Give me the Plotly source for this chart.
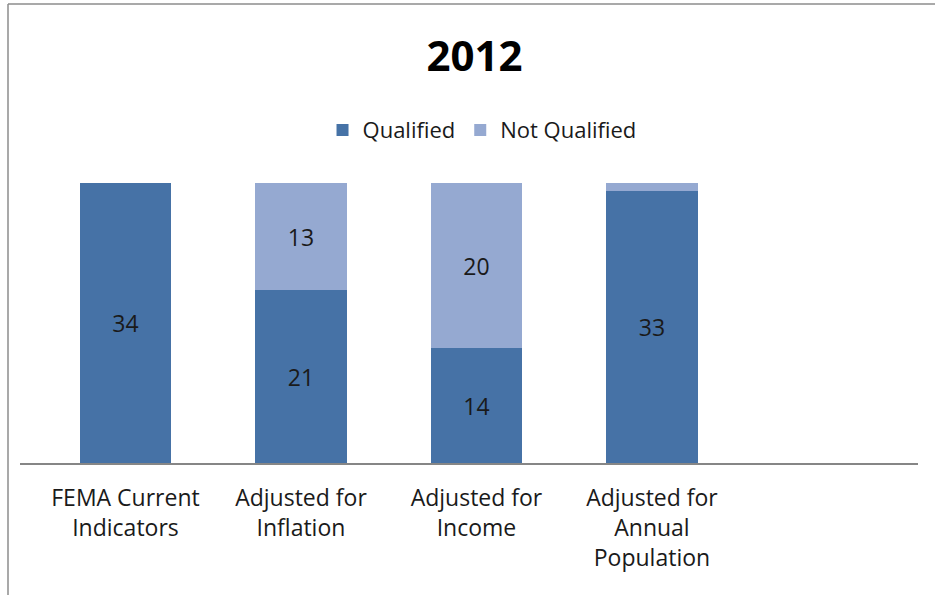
import plotly.graph_objects as go

# Disaster declaration qualification counts, 2012
categories = [
    "FEMA Current<br>Indicators",
    "Adjusted for<br>Inflation",
    "Adjusted for<br>Income",
    "Adjusted for<br>Annual<br>Population",
]
qualified = [34, 21, 14, 33]
not_qualified = [0, 13, 20, 1]

x_pos = list(range(len(categories)))

FONT = "Open Sans"
DARK = "#4672A6"
LIGHT = "#95A9D1"


def labels(values):
    # values too small to fit a label inside the segment stay unlabeled
    return [str(v) if v >= 2 else "" for v in values]


fig = go.Figure()
fig.add_trace(go.Bar(
    x=x_pos, y=qualified, name="Qualified",
    marker=dict(color=DARK, line=dict(width=0)),
    width=0.52,
    text=labels(qualified), textposition="inside", insidetextanchor="middle",
    textangle=0, constraintext="none",
    textfont=dict(family=FONT, size=23, color="#1a1a1a"),
))
fig.add_trace(go.Bar(
    x=x_pos, y=not_qualified, name="Not Qualified",
    marker=dict(color=LIGHT, line=dict(width=0)),
    width=0.52,
    text=labels(not_qualified), textposition="inside", insidetextanchor="middle",
    textangle=0, constraintext="none",
    textfont=dict(family=FONT, size=23, color="#1a1a1a"),
))

fig.update_layout(
    width=935, height=595,
    margin=dict(l=20, r=17, t=183, b=132),
    barmode="stack",
    paper_bgcolor="white", plot_bgcolor="white",
    font=dict(family=FONT, size=23, color="#1a1a1a"),
    title=dict(
        text="<b>2012</b>", x=0.5075, xref="container", xanchor="center",
        y=1 - 56 / 595, yref="container", yanchor="middle",
        font=dict(family=FONT, size=42, color="#000000"),
    ),
    legend=dict(
        orientation="h", x=0.5145, xanchor="center", y=1.189, yanchor="middle",
        font=dict(family=FONT, size=22, color="#1a1a1a"),
        traceorder="normal", itemwidth=30, bgcolor="rgba(0,0,0,0)",
    ),
    xaxis=dict(
        tickmode="array", tickvals=x_pos, ticktext=categories,
        range=[-0.601, 4.516], showline=True, linecolor="#868686", linewidth=1.5,
        showgrid=False, zeroline=False, ticks="", ticklabelstandoff=14,
        tickfont=dict(family=FONT, size=23, color="#1a1a1a"),
    ),
    yaxis=dict(range=[0, 34], visible=False, showgrid=False, zeroline=False),
    bargap=0,
    shapes=[
        # chart frame edges
        dict(type="line", xref="paper", yref="paper",
             x0=(8 - 20) / 898, x1=(8 - 20) / 898, y0=1 + (183 - 4) / 280, y1=(463 - 600) / 280,
             line=dict(color="#8c8c8c", width=1.5)),
        dict(type="line", xref="paper", yref="paper",
             x0=(8 - 20) / 898, x1=(940 - 20) / 898, y0=1 + (183 - 4) / 280, y1=1 + (183 - 4) / 280,
             line=dict(color="#8c8c8c", width=1.5)),
    ],
)

fig.write_html("out.html")
